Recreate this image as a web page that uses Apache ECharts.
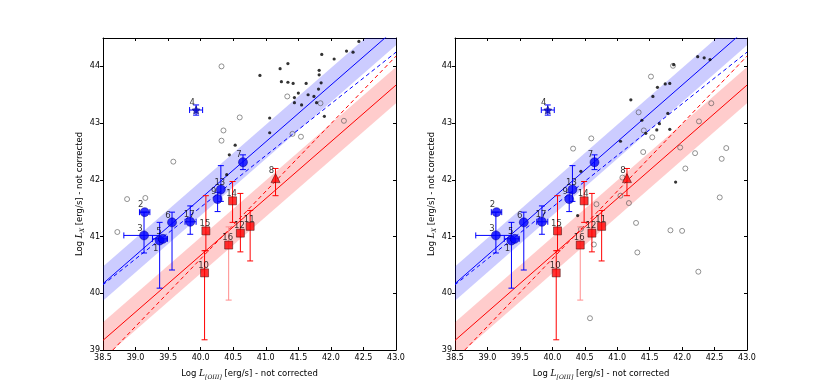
<!DOCTYPE html>
<html><head><meta charset="utf-8">
<script src="https://cdn.jsdelivr.net/npm/echarts@6/dist/echarts.min.js"></script>
<style>html,body{margin:0;padding:0;background:#fff}#c{width:830px;height:391px}</style>
</head><body><div id="c"></div>
<script>
// ---------- data ----------
const xTickVals = [38.5, 39.0, 39.5, 40.0, 40.5, 41.0, 41.5, 42.0, 42.5, 43.0];
const yTickVals = [39, 40, 41, 42, 43, 44];

// numbered sources (identical in both panels)
const blueIds = ['1','2','3','5','6','7','9','13','17'];
const blueX   = [39.37, 39.14, 39.13, 39.42, 39.56, 40.65, 40.26, 40.31, 39.84];
const blueY   = [40.93, 41.43, 41.02, 40.96, 41.25, 42.31, 41.66, 41.83, 41.26];
const blueXLo = [null, 39.06, 38.82, 39.26, null, null, null, null, 39.76];
const blueXHi = [null, 39.22, 39.37, 39.49, null, null, null, null, 39.93];
const blueYLo = [40.09, null, 40.71, null, 40.41, 42.18, 41.44, 41.62, 41.04];
const blueYHi = [41.25, null, 41.43, null, 41.43, 42.44, 41.78, 42.25, 41.54];

const starIds = ['4'];
const starX = [39.93]; const starY = [43.23];
const starXLo = [39.83]; const starXHi = [40.03];
const starYLo = [43.14]; const starYHi = [43.32];

const redIds = ['10','11','12','14','15','16'];
const redX   = [40.06, 40.76, 40.61, 40.49, 40.08, 40.43];
const redY   = [40.36, 41.18, 41.06, 41.63, 41.10, 40.85];
const redYLo = [39.18, 40.57, 40.73, 41.25, 40.75, 39.88];
const redYHi = [40.75, 41.46, 41.76, 41.97, 41.72, 41.17];

const triIds = ['8'];
const triX = [41.15]; const triY = [42.03];
const triYLo = [41.72]; const triYHi = [42.20];

// fit lines (end points)
const fitX = [38.5, 43.0];
const blueSolidY  = [40.17, 44.67];
const blueDashedY = [40.15, 44.25];
const redSolidY   = [39.17, 43.67];
const redDashedY  = [38.82, 44.18];
const blueBandLo = [39.87, 44.37];
const blueBandHi = [40.47, 44.97];
const redBandLo  = [38.85, 43.35];
const redBandHi  = [39.49, 43.99];

// background samples, left panel
const leftDotX = [40.91,41.22,41.34,41.24,41.34,41.42,41.62,41.86,42.05,42.24,42.34,42.43,41.82,41.82,41.85,41.81,41.65,41.50,41.44,41.44,41.55,41.74,41.78,41.90,41.06,41.06,40.53,40.44,40.40];
const leftDotY = [43.84,43.96,44.05,43.73,43.72,43.70,43.70,44.21,44.13,44.27,44.25,44.44,43.93,43.85,43.71,43.60,43.50,43.53,43.45,43.36,43.32,43.47,43.36,43.12,43.09,42.83,42.61,42.44,42.09];
const leftOpenX = [40.32,40.60,40.35,40.32,41.33,41.84,41.41,41.54,42.20,39.58,38.87,39.15,38.72];
const leftOpenY = [44.00,43.10,42.87,42.69,43.47,43.35,42.81,42.76,43.04,42.32,41.66,41.68,41.08];
// background samples, right panel
const rightDotX = [42.24,42.34,42.43,41.87,41.74,41.81,41.62,41.21,41.55,41.38,41.78,41.65,41.61,41.81,41.44,41.05,40.44,41.90,40.39];
const rightDotY = [44.17,44.15,44.12,44.03,43.69,43.70,43.63,43.41,43.47,43.05,43.17,42.99,42.88,42.89,42.82,42.68,42.15,41.96,41.37];
const rightOpenX = [41.86,41.52,40.60,40.32,41.33,41.41,41.54,42.45,42.26,41.97,42.68,42.20,42.61,41.40,42.05,41.08,41.05,41.18,42.58,41.29,41.82,42.00,41.31,42.25,40.68,40.44,40.64,40.58];
const rightOpenY = [44.01,43.82,42.73,42.55,43.19,42.87,42.75,43.35,43.03,42.57,42.56,42.47,42.37,42.49,42.20,42.04,41.72,41.59,41.69,41.24,41.11,41.10,40.72,40.38,41.57,41.13,40.86,39.56];

// ---------- styles ----------
const FONT = 'DejaVu Sans';
const BLUE = '#0000ff', RED = '#ff0000';
const errColorOverride = {'16': '#ff8c8c'};
const labelBelow = {'1': true};
const grids = [
  {left: 103, top: 38, width: 293, height: 312},
  {left: 455, top: 38, width: 292, height: 312}
];

const zip = (a, b) => a.map((v, i) => [v, b[i]]);
const nz = v => (v === null || v === undefined) ? NaN : v;

const nameRich = {
  n: {fontFamily: FONT, fontSize: 8.5, color: '#000'},
  i: {fontFamily: 'DejaVu Serif', fontStyle: 'italic', fontSize: 9, color: '#000'},
  s: {fontFamily: 'DejaVu Serif', fontStyle: 'italic', fontSize: 6, color: '#000', padding: [7, 0, 0, 0]}
};

function xAxes(gi) {
  return [{
    type: 'value', gridIndex: gi, position: 'bottom', min: 38.5, max: 43, interval: 0.5,
    axisLine: {onZero: false, lineStyle: {color: '#000', width: 1}},
    axisTick: {inside: true, length: 3, lineStyle: {color: '#000'}},
    axisLabel: {fontFamily: FONT, fontSize: 8, color: '#000', margin: 4,
      formatter: v => xTickVals.some(t => Math.abs(t - v) < 1e-6) ? v.toFixed(1) : ''},
    splitLine: {show: false},
    name: '{n|Log }{i|L}{s|[OIII]}{n| [erg/s] - not corrected}',
    nameLocation: 'middle', nameGap: 17,
    nameTextStyle: {rich: nameRich}
  }, {
    type: 'value', gridIndex: gi, position: 'top', min: 38.5, max: 43, interval: 0.5,
    axisLine: {onZero: false, lineStyle: {color: '#000', width: 1}},
    axisTick: {inside: true, length: 3, lineStyle: {color: '#000'}},
    axisLabel: {show: false}, splitLine: {show: false}
  }];
}
function yAxes(gi) {
  return [{
    type: 'value', gridIndex: gi, position: 'left', min: 39, max: 44.5, interval: 1,
    axisLine: {onZero: false, lineStyle: {color: '#000', width: 1}},
    axisTick: {inside: false, length: 3, lineStyle: {color: '#000'}},
    axisLabel: {fontFamily: FONT, fontSize: 8, color: '#000', margin: 3, showMaxLabel: false,
      formatter: v => yTickVals.includes(v) ? String(v) : ''},
    splitLine: {show: false},
    name: '{n|Log }{i|L}{s|X}{n| [erg/s] - not corrected}',
    nameLocation: 'middle', nameGap: 17,
    nameTextStyle: {rich: nameRich}
  }, {
    type: 'value', gridIndex: gi, position: 'right', min: 39, max: 44.5, interval: 1,
    axisLine: {onZero: false, lineStyle: {color: '#000', width: 1}},
    axisTick: {inside: true, length: 3, lineStyle: {color: '#000'}},
    axisLabel: {show: false}, splitLine: {show: false}
  }];
}

function bandSeries(gi, lo, hi, color) {
  return {
    type: 'custom', xAxisIndex: 2 * gi, yAxisIndex: 2 * gi, silent: true, z: 1,
    data: [[fitX[0], lo[0]]],
    renderItem: (params, api) => {
      const pts = [
        api.coord([fitX[0], lo[0]]), api.coord([fitX[1], lo[1]]),
        api.coord([fitX[1], hi[1]]), api.coord([fitX[0], hi[0]])
      ];
      const cs = params.coordSys;
      return {type: 'group', clipPath: {type: 'rect', shape: {x: cs.x, y: cs.y, width: cs.width, height: cs.height}},
        children: [{type: 'polygon', shape: {points: pts}, style: {fill: color}}]};
    }
  };
}
function lineSeries(gi, ys, color, dashed) {
  return {
    type: 'line', xAxisIndex: 2 * gi, yAxisIndex: 2 * gi, data: zip(fitX, ys),
    showSymbol: false, symbol: 'none', clip: true, silent: true, z: 2,
    lineStyle: {color, width: 1, type: dashed ? [4, 3] : 'solid'}
  };
}
function scatterBg(gi, xs, ys, open) {
  return {
    type: 'scatter', xAxisIndex: 2 * gi, yAxisIndex: 2 * gi, data: zip(xs, ys), silent: true, z: 3,
    symbol: 'circle', symbolSize: open ? 5 : 3.2,
    itemStyle: open ? {color: 'rgba(255,255,255,0)', borderColor: '#555', borderWidth: 0.8}
                    : {color: '#000'}
  };
}
function errSeries(gi, ids, xs, ys, xlo, xhi, ylo, yhi, color) {
  const data = ids.map((id, k) => [xs[k], ys[k], nz(xlo ? xlo[k] : null), nz(xhi ? xhi[k] : null), nz(ylo ? ylo[k] : null), nz(yhi ? yhi[k] : null)]);
  return {
    type: 'custom', xAxisIndex: 2 * gi, yAxisIndex: 2 * gi, silent: true, z: 4,
    data,
    renderItem: (params, api) => {
      const id = ids[params.dataIndex];
      const c = errColorOverride[id] || color;
      const x = api.value(0), y = api.value(1);
      const a = api.value(2), b = api.value(3), lo = api.value(4), hi = api.value(5);
      const ch = [];
      const st = {stroke: c, lineWidth: 1};
      const cap = 3;
      if (isFinite(lo) && isFinite(hi)) {
        const p1 = api.coord([x, lo]), p2 = api.coord([x, hi]);
        ch.push({type: 'line', shape: {x1: p1[0], y1: p1[1], x2: p2[0], y2: p2[1]}, style: st});
        ch.push({type: 'line', shape: {x1: p1[0] - cap, y1: p1[1], x2: p1[0] + cap, y2: p1[1]}, style: st});
        ch.push({type: 'line', shape: {x1: p2[0] - cap, y1: p2[1], x2: p2[0] + cap, y2: p2[1]}, style: st});
      }
      if (isFinite(a) && isFinite(b)) {
        const p1 = api.coord([a, y]), p2 = api.coord([b, y]);
        ch.push({type: 'line', shape: {x1: p1[0], y1: p1[1], x2: p2[0], y2: p2[1]}, style: st});
        ch.push({type: 'line', shape: {x1: p1[0], y1: p1[1] - cap, x2: p1[0], y2: p1[1] + cap}, style: st});
        ch.push({type: 'line', shape: {x1: p2[0], y1: p2[1] - cap, x2: p2[0], y2: p2[1] + cap}, style: st});
      }
      return {type: 'group', children: ch};
    }
  };
}
function markerSeries(gi, ids, xs, ys, symbol, size, color, border) {
  return {
    type: 'scatter', xAxisIndex: 2 * gi, yAxisIndex: 2 * gi, z: 5, silent: true,
    symbol, symbolSize: size,
    itemStyle: {color, borderColor: border, borderWidth: 0.6},
    data: ids.map((id, k) => ({
      value: [xs[k], ys[k]], name: id,
      label: {offset: [id.length > 1 ? -1 : -4, labelBelow[id] ? 8 : -7]}
    })),
    label: {show: true, position: 'inside', formatter: p => p.name,
      fontFamily: FONT, fontSize: 8.5, color: '#000'}
  };
}
const STAR = 'path://M0,-10L2.94,-4.05L9.51,-3.09L4.76,1.55L5.88,8.09L0,5L-5.88,8.09L-4.76,1.55L-9.51,-3.09L-2.94,-4.05Z';

function panelSeries(gi, dotX, dotY, openX, openY) {
  return [
    bandSeries(gi, blueBandLo, blueBandHi, 'rgba(0,0,255,0.2)'),
    bandSeries(gi, redBandLo, redBandHi, 'rgba(255,0,0,0.2)'),
    lineSeries(gi, blueSolidY, BLUE, false),
    lineSeries(gi, blueDashedY, BLUE, true),
    lineSeries(gi, redSolidY, RED, false),
    lineSeries(gi, redDashedY, RED, true),
    scatterBg(gi, openX, openY, true),
    scatterBg(gi, dotX, dotY, false),
    errSeries(gi, blueIds, blueX, blueY, blueXLo, blueXHi, blueYLo, blueYHi, BLUE),
    errSeries(gi, starIds, starX, starY, starXLo, starXHi, starYLo, starYHi, BLUE),
    errSeries(gi, redIds, redX, redY, null, null, redYLo, redYHi, RED),
    errSeries(gi, triIds, triX, triY, null, null, triYLo, triYHi, RED),
    markerSeries(gi, blueIds, blueX, blueY, 'circle', 9, BLUE, '#00008b'),
    markerSeries(gi, starIds, starX, starY, STAR, 8, '#0000cc', '#000066'),
    markerSeries(gi, redIds, redX, redY, 'rect', 8, RED, '#330000'),
    markerSeries(gi, triIds, triX, triY, 'triangle', 9, RED, '#330000')
  ];
}

const chart = echarts.init(document.getElementById('c'), null, {renderer: 'canvas'});
chart.setOption({
  animation: false,
  backgroundColor: '#fff',
  grid: grids,
  xAxis: [...xAxes(0), ...xAxes(1)],
  yAxis: [...yAxes(0), ...yAxes(1)],
  series: [
    ...panelSeries(0, leftDotX, leftDotY, leftOpenX, leftOpenY),
    ...panelSeries(1, rightDotX, rightDotY, rightOpenX, rightOpenY)
  ]
});
</script>
</body></html>
